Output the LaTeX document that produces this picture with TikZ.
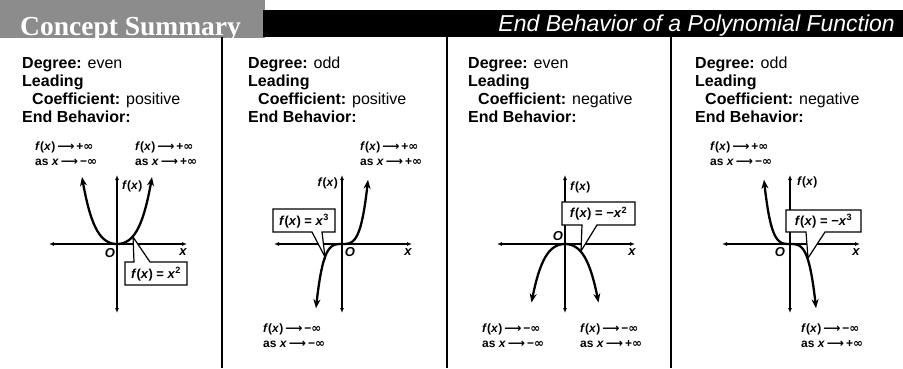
\documentclass[tikz,border=0pt]{standalone}
\usepackage{fontspec}
\setmainfont{Liberation Sans}
\newfontfamily\symf{DejaVu Sans}
\newfontfamily\headserif{Liberation Serif}
\usetikzlibrary{arrows.meta}
\newcommand\fx{\textit{f}(\textit{x})}
\newcommand\lar{\,{\symf\char"27F6}\,}
\newcommand\inff{{\symf ∞}}
\tikzset{
  info/.style={anchor=base west, inner sep=0pt, font=\fontsize{16}{18}\selectfont},
  eblabel/.style={anchor=base west, inner sep=0pt, font=\bfseries\fontsize{12}{13}\selectfont},
  axlabel/.style={inner sep=0pt, font=\bfseries\fontsize{12}{13}\selectfont},
  olabel/.style={inner sep=0pt, font=\bfseries\itshape\fontsize{13}{14}\selectfont},
  boxlabel/.style={inner sep=0pt, font=\bfseries\fontsize{13}{14}\selectfont},
  axis/.style={line width=1.3pt, {Latex[length=5pt,width=4pt]}-{Latex[length=5pt,width=4pt]}},
  curve/.style={line width=2.3pt, {Stealth[length=9pt,width=7pt]}-{Stealth[length=9pt,width=7pt]}},
  callout/.style={draw=black, fill=white, line width=1.2pt, line join=miter},
  divider/.style={line width=2pt, black}
}
\newcommand\infotext[4]{%
  \node[info] (#1deg) at (#2,68) {\textbf{Degree:} #3};
  \node[info] (#1lead) at (#2,86) {\textbf{Leading}};
  \node[info] (#1coef) at (#2+10,104) {\textbf{Coefficient:} #4};
  \node[info] (#1end) at (#2,122) {\textbf{End Behavior:}};
}
\newcommand\ebtext[5]{%
  \node[eblabel] (#1a) at (#2,#3) {\fx\lar#4\inff};
  \node[eblabel] (#1b) at (#2,#3+15) {as \textit{x}\lar#5\inff};
}
\newcommand\axespair[2]{%
  \coordinate (#1xl) at (#2-68,244);
  \coordinate (#1xr) at (#2+70,244);
  \coordinate (#1yt) at (#2,175);
  \coordinate (#1yb) at (#2,313);
  \draw[axis] (#1xl) -- (#1xr);
  \draw[axis] (#1yt) -- (#1yb);
}
\begin{document}
\begin{tikzpicture}[x=1pt,y=-1pt]
\useasboundingbox (0,0) rectangle (903,368);
\fill[white] (0,0) rectangle (903,368);
% header
\fill[black!45] (0,0) rectangle (265,38);
\fill[black] (263,10) rectangle (903,37);
\node[anchor=base west, inner sep=0pt, text=white, font=\headserif\bfseries\fontsize{27.5}{28}\selectfont] (cs) at (20,35) {Concept Summary};
\node[anchor=base east, inner sep=0pt, text=white, font=\itshape\fontsize{23}{24}\selectfont] (title) at (895,31) {End Behavior of a Polynomial Function};
% dividers
\coordinate (d1t) at (222,37); \coordinate (d1b) at (222,368);
\coordinate (d2t) at (447,37); \coordinate (d2b) at (447,368);
\coordinate (d3t) at (671,37); \coordinate (d3b) at (671,368);
\draw[divider] (d1t) -- (d1b);
\draw[divider] (d2t) -- (d2b);
\draw[divider] (d3t) -- (d3b);

% ---------- panel 1 ----------
\infotext{pa}{22}{even}{positive}
\ebtext{pal}{35}{150}{+}{−}
\ebtext{par}{135}{150}{+}{+}
\axespair{pa}{117}
\draw[curve] plot[domain=-3.5:3.5, samples=71] ({117+10*\x},{244-(2.42*\x*\x+0.249*\x*\x*\x*\x)});
\node[axlabel, anchor=west] (pafx) at (122,186) {\fx};
\node[olabel] (pao) at (110,253) {O};
\node[olabel] (pax) at (183,252) {x};
\draw[callout] (125,262) -- (134,262) -- (133,237) -- (150,262) -- (187,262) -- (187,285) -- (125,285) -- cycle;
\node[boxlabel] (pabox) at (156,274) {\fx\ = \textit{x}\textsuperscript{2}};

% ---------- panel 2 ----------
\infotext{pb}{248}{odd}{positive}
\ebtext{pbt}{360}{150}{+}{+}
\ebtext{pbb}{263}{332}{−}{−}
\axespair{pb}{342}
\draw[curve] plot[domain=-2.6:2.6, samples=71] ({342+10*\x},{244-(1.9*\x*\x*\x+0.26*\x*\x*\x*\x*\x)});
\node[axlabel, anchor=east] (pbfx) at (338,183) {\fx};
\node[olabel] (pbo) at (350,252) {O};
\node[olabel] (pbx) at (408,252) {x};
\draw[callout] (273,209) -- (335,209) -- (335,232) -- (322,232) -- (325,257) -- (312,232) -- (273,232) -- cycle;
\node[boxlabel] (pbbox) at (304,221) {\fx\ = \textit{x}\textsuperscript{3}};

% ---------- panel 3 ----------
\infotext{pc}{468}{even}{negative}
\ebtext{pcl}{482}{332}{−}{−}
\ebtext{pcr}{580}{332}{−}{+}
\axespair{pc}{565}
\draw[curve] plot[domain=-3.35:3.35, samples=71] ({565+10*\x},{244+(2.42*\x*\x+0.249*\x*\x*\x*\x)});
\node[axlabel, anchor=west] (pcfx) at (570,187) {\fx};
\node[olabel] (pco) at (558,236) {O};
\node[olabel] (pcx) at (632,252) {x};
\draw[callout] (562,202) -- (635,202) -- (635,225) -- (597,225) -- (581,251) -- (582,225) -- (562,225) -- cycle;
\node[boxlabel] (pcbox) at (598.5,213.5) {\fx\ = −\textit{x}\textsuperscript{2}};

% ---------- panel 4 ----------
\infotext{pd}{695}{odd}{negative}
\ebtext{pdt}{710}{150}{+}{−}
\ebtext{pdb}{801}{332}{−}{+}
\axespair{pd}{790}
\draw[curve] plot[domain=-2.6:2.6, samples=71] ({790+10*\x},{244+(1.9*\x*\x*\x+0.26*\x*\x*\x*\x*\x)});
\node[axlabel, anchor=west] (pdfx) at (797,182) {\fx};
\node[olabel] (pdo) at (780,252) {O};
\node[olabel] (pdx) at (856,252) {x};
\draw[callout] (786,210) -- (861,210) -- (861,232) -- (825,232) -- (808,258) -- (806,232) -- (786,232) -- cycle;
\node[boxlabel] (pdbox) at (823.5,221) {\fx\ = −\textit{x}\textsuperscript{3}};
\end{tikzpicture}
\end{document}
